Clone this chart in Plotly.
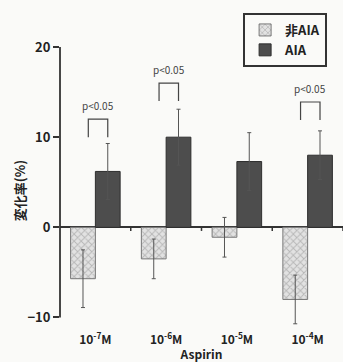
import plotly.graph_objects as go

categories = ["10<sup>-7</sup>M", "10<sup>-6</sup>M", "10<sup>-5</sup>M", "10<sup>-4</sup>M"]
non_aia = [-5.7, -3.5, -1.1, -8.0]
non_aia_err = [3.2, 2.2, 2.2, 2.7]
aia = [6.2, 10.0, 7.3, 8.0]
aia_err = [3.1, 3.1, 3.2, 2.7]
sig_top = [12.0, 16.0, None, 13.9]
sig_label = "p<0.05"
y_ticks = [-10, 0, 10, 20]

FONT = "Noto Sans CJK JP"
DARK = "#333333"
xs = list(range(len(categories)))

fig = go.Figure()
fig.add_trace(go.Bar(
    name="非AIA", x=xs, y=non_aia,
    marker=dict(color="#dcdcdc", line=dict(color="#777777", width=1),
                pattern=dict(shape="x", fgcolor="#8c8c8c", bgcolor="#e2e2e2", size=5, solidity=0.35)),
    error_y=dict(type="data", array=non_aia_err, color="#555555", thickness=1, width=2),
))
fig.add_trace(go.Bar(
    name="AIA", x=xs, y=aia,
    marker=dict(color="#4d4d4d", line=dict(color="#2e2e2e", width=1)),
    error_y=dict(type="data", array=aia_err, color="#555555", thickness=1, width=2),
))

# significance brackets
for i, top in enumerate(sig_top):
    if top is None:
        continue
    xl, xr = i - 0.1, i + 0.175
    fig.add_trace(go.Scatter(x=[xl, xl, xr, xr], y=[top - 2.0, top, top, top - 2.0],
                             mode="lines", line=dict(color="#444444", width=1.2),
                             showlegend=False, hoverinfo="skip"))
    fig.add_annotation(x=(xl + xr) / 2, y=top + 0.5, text=sig_label, showarrow=False,
                       yanchor="bottom", font=dict(family=FONT, size=10, color="#444444"))

# separator ticks on zero line
for i in range(len(categories)):
    fig.add_shape(type="line", x0=i + 0.5, x1=i + 0.5, y0=0, y1=-0.4,
                  line=dict(color=DARK, width=1.5))

# y axis line from -10 to 20
fig.add_shape(type="line", xref="paper", x0=0, x1=0, yref="y", y0=min(y_ticks), y1=max(y_ticks),
              line=dict(color=DARK, width=1.8))

fig.add_annotation(xref="paper", yref="paper", x=-0.145, y=0.466, text="<b>変化率(%)</b>",
                   textangle=-90, showarrow=False, xanchor="center", yanchor="middle",
                   font=dict(family=FONT, size=13, color="#222222"))

fig.update_layout(
    width=343, height=362,
    margin=dict(l=60, r=0, t=29, b=31, autoexpand=False),
    paper_bgcolor="#fafaf8", plot_bgcolor="#fafaf8",
    barmode="group", bargap=0.3, bargroupgap=0,
    font=dict(family=FONT, size=12, color="#222222"),
    legend=dict(x=0.647, y=1.053, xanchor="left", yanchor="top",
                bordercolor=DARK, borderwidth=2, bgcolor="#fafaf8",
                font=dict(family=FONT, size=13, color="#222222", weight="bold"),
                itemwidth=30, tracegroupgap=0),
    showlegend=True,
    xaxis=dict(range=[-0.5, 3.5], tickvals=xs, ticktext=categories, showgrid=False,
               showline=False, ticks="", zeroline=False, automargin=False,
               title=dict(text="Aspirin", standoff=3, font=dict(family=FONT, size=12, weight="bold")),
               tickfont=dict(family=FONT, size=12, weight="bold")),
    yaxis=dict(range=[-11.5, 22], tickvals=y_ticks, showgrid=False, showline=False,
               ticks="outside", ticklen=6, tickwidth=1.5, tickcolor=DARK, automargin=False,
               zeroline=True, zerolinecolor=DARK, zerolinewidth=1.8,
               tickfont=dict(family=FONT, size=13, weight="bold")),
)

fig.write_html("out.html", config={"displayModeBar": False},
               post_script="document.body.style.margin='0';")
